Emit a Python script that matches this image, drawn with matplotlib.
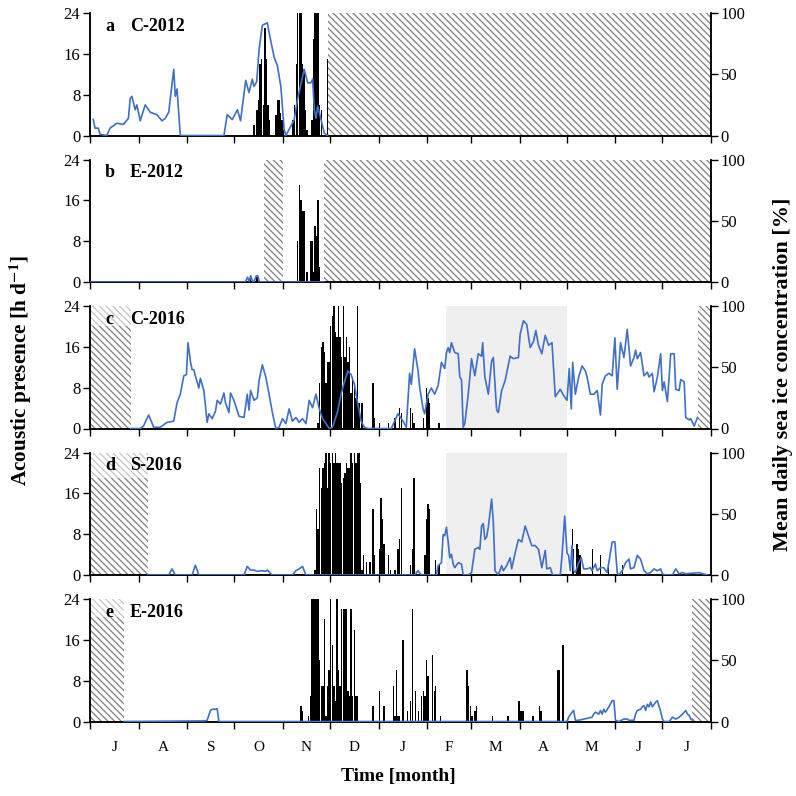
import numpy as np
import matplotlib
matplotlib.use('Agg')
import matplotlib.pyplot as plt
from matplotlib.patches import Rectangle

plt.rcParams['font.family'] = ['Liberation Serif', 'DejaVu Serif']
plt.rcParams['mathtext.fontset'] = 'stix'
plt.rcParams['hatch.linewidth'] = 0.9
plt.rcParams['hatch.color'] = '#7f7f7f'

# days counted from 1 July, 13 months shown
month_edges = [0, 31, 62, 92, 123, 153, 184, 215, 243, 274, 304, 335, 365, 396]
month_labels = ['J', 'A', 'S', 'O', 'N', 'D', 'J', 'F', 'M', 'A', 'M', 'J', 'J']

panel_letters = ['a', 'b', 'c', 'd', 'e']
panel_names = ['C-2012', 'E-2012', 'C-2016', 'S-2016', 'E-2016']

# ---- acoustic presence (h per day) ----
a_bar_start = 104
a_bar_h = [2, 0, 5, 7, 14, 15, 6, 21, 15, 6, 3, 0, 0, 0, 4, 7, 7, 4.5, 3, 1, 0, 0, 0, 0,
           0, 3, 6, 14, 24, 24, 24, 14, 13, 5, 1, 0, 0, 3, 19, 24, 24, 24, 6, 5, 0, 0, 0, 15]

b_bar_start = 132
b_bar_h = [8, 19, 16, 14, 14, 0, 2, 0, 8, 8, 2, 11, 9, 16, 3]
b_extra_day = [102, 106]
b_extra_h = [1.3, 1]

c_bar_start = 145
c_bar_h = [1, 9, 16, 17, 15, 9, 13, 13, 20, 22, 24, 19, 18, 24, 18, 14, 24, 14, 18, 13,
           16, 7, 10, 9, 6, 24, 5, 0, 5]
c_extra_day = [180, 181, 184, 190, 194, 197, 198, 204, 205, 206, 212, 214, 215, 216, 222]
c_extra_h = [9, 2, 1, 1, 2, 4, 3, 4, 3, 1, 2, 8, 6, 5, 1]

d_bar_start = 143
d_bar_h = [1, 13, 9, 21, 17, 21, 22, 24, 17, 24, 22, 24, 22, 24, 22, 22, 22, 18, 19, 20,
           22, 21, 21, 24, 22, 24, 22, 24, 24, 18, 1, 4, 0, 2.5, 0, 2.5, 0, 13, 4, 0,
           0, 5, 15, 11, 6, 0, 0, 4, 1, 0, 0, 1, 0, 5, 7, 17, 0, 0, 0, 0, 0, 2, 5, 19]
d_extra_day = [213, 214, 215, 216, 220, 222, 307, 308, 310, 311, 312, 320, 325, 330, 339]
d_extra_h = [4, 11, 14, 13, 3, 2, 9, 5, 6, 5, 4, 5, 4, 2, 2]

e_bar_start = 134
e_bar_h = [3, 2, 0, 0, 0, 1, 5, 24, 24, 24, 24, 24, 12, 7, 7, 20, 1, 7, 10, 24, 15, 7,
           4, 24, 10, 7, 22, 22, 22, 22, 6, 5, 22, 5, 18, 5, 5]
e_extra_day = [180, 184, 187, 193, 194, 195, 196, 197, 199, 202, 204, 205, 207, 209, 211,
               212, 213, 214, 215, 218, 219, 220, 223, 240, 241, 242, 243, 245, 246, 256,
               266, 273, 274, 275, 276, 282, 286, 287, 298, 299, 301]
e_extra_h = [3, 6, 3, 7, 1, 10, 1, 1, 16, 2, 4, 22, 6, 2, 5, 6, 5, 12, 9, 13, 6, 7, 1,
             10, 7, 3, 1, 2, 3, 1, 1, 4, 2, 2, 2, 1, 3, 2, 10, 10, 15]

# ---- mean daily sea ice concentration (%) ----
a_ice_day = [2.1, 3.2, 5.3, 6.4, 10.7, 12.8, 17.1, 21.3, 24.5, 25.6, 26.7, 28.8, 29.9, 32,
             35.2, 38.4, 42.7, 45.9, 48, 50.2, 51.2, 53.4, 54.4, 55.5, 57.6, 85.4, 87.5,
             90.7, 94, 96, 99.3, 101.4, 103.5, 104.6, 106.3, 107.8, 109.9, 113.1, 114.2,
             117.4, 119.5, 121.7, 123.8, 124.9, 127, 130.2, 132.4, 136.6, 138.8, 140.9,
             142, 143, 144.1, 145.2, 147.3, 149.4, 151.5]
a_ice = [13, 6, 6, 1, 0, 6, 10, 9, 14, 30, 32, 21, 25, 12, 25, 19, 17, 12, 14, 19, 30, 54,
         32, 38, 0, 0, 17, 13, 21, 12, 45, 35, 46, 40, 44, 70, 90, 92, 84, 64, 57, 40, 5,
         0, 5, 13, 30, 54, 43, 43, 46, 21, 14, 24, 13, 2, 0]

b_ice_day = [0, 99, 100.5, 101.5, 102.5, 103.5, 104.5, 106, 107, 108, 149.5]
b_ice = [0, 0, 4, 0.5, 5, 1, 0, 5, 5, 0, 0]

c_ice_day = [26, 32, 34.1, 37.4, 38.4, 40.6, 44.8, 49.1, 53.4, 55.5, 57.6, 59.8, 61.5, 62.5,
             64, 65.1, 66.2, 67.2, 69.4, 70.4, 72.6, 74.7, 75.8, 77.9, 80, 81.1, 83.2, 85.4,
             86.4, 88.6, 89.6, 91.8, 95, 98.2, 100.3, 101.4, 102.4, 104.6, 106.7, 107.8,
             109.9, 112.1, 114.2, 116.3, 118.5, 120.6, 122.7, 124.9, 127, 129.1, 131.3,
             133.4, 135.5, 137.7, 139.8, 141.9, 144.1, 146.2, 148.3, 150.5, 152.6, 154.7,
             157.9, 160.1, 162.2, 164.4, 166.5, 168.6, 170.8, 172.9, 175, 177.2, 192.1,
             196.4, 199.6, 201.7, 203.8, 204.9, 207, 209.2, 210.2, 212.4, 213.4, 215.6,
             217.7, 219.8, 222, 224.1, 226.2, 227.3, 228.4, 229.4, 230.5, 232.6, 234.8,
             235.8, 236.9, 238, 239, 241.2, 243.3, 245.4, 247.6, 249.7, 250.4, 251.8, 254,
             256.1, 257.2, 259.3, 260.4, 262.5, 264.7, 267.9, 270, 273.2, 274.3, 276.4,
             278.5, 280.7, 282.8, 284.3, 286, 288.1, 290.3, 292.4, 294.6, 296.7, 299.9,
             302, 304.2, 305.6, 306.9, 307.8, 309.5, 311.6, 313.8, 315.9, 317, 319.1,
             321.3, 323.4, 325.5, 326.6, 328.7, 330.9, 333, 334.7, 336.2, 338.3, 340.5,
             342.6, 344.7, 346.9, 347.9, 349, 351.1, 353.3, 355.4, 356.5, 358.6, 359.7,
             361.8, 363.9, 365, 366.1, 368.2, 370.3, 372.5, 373.5, 375.7, 376.7, 378.9,
             379.9, 382.1, 383.1, 385.3, 387.4]
c_ice = [0, 0, 2, 11, 8, 1, 1, 5, 6, 21, 28, 43, 44, 70, 55, 48, 48, 43, 33, 41, 31, 5,
         12, 8, 14, 23, 20, 29, 21, 13, 29, 23, 10, 9, 28, 15, 31, 23, 25, 39, 52, 42, 28,
         13, 0, 1, 8, 4, 16, 6, 9, 5, 8, 4, 23, 17, 28, 16, 8, 4, 0, 1, 14, 28, 38, 47, 44,
         36, 20, 6, 1, 0, 0, 12, 6, 1, 45, 36, 65, 47, 34, 16, 12, 28, 33, 28, 35, 54, 49,
         62, 66, 62, 70, 62, 61, 42, 40, 1, 4, 28, 57, 43, 61, 59, 70, 42, 28, 55, 58, 15,
         13, 31, 39, 59, 57, 58, 77, 88, 85, 66, 71, 80, 68, 61, 76, 68, 70, 26, 32, 27,
         23, 49, 16, 54, 28, 42, 51, 47, 42, 28, 28, 31, 11, 36, 43, 45, 43, 74, 32, 70,
         58, 81, 51, 58, 64, 57, 62, 43, 46, 42, 45, 30, 42, 61, 31, 38, 22, 61, 61, 32,
         31, 40, 38, 9, 7, 8, 2, 9]

d_ice_day = [36.7, 50.2, 52.3, 54.4, 65.1, 67.2, 69.4, 98.2, 100.3, 102.4, 104.6, 106.7,
             108.9, 112.1, 113.1, 115.3, 116.3, 129.1, 131.2, 133.4, 135.5, 137.7, 207,
             209.2, 211.3, 220.9, 222, 224.1, 225.2, 226.2, 227.3, 228.4, 229.4, 230.5,
             231.6, 232.6, 234.8, 236.9, 238, 241.2, 243.3, 245.4, 247.6, 248.6, 249.7,
             250.8, 251.8, 252.9, 254, 256.1, 257.2, 258.3, 260.4, 262.5, 263.6, 265.7,
             267.9, 268.9, 271.1, 273.2, 275.3, 277.5, 279.6, 281.7, 283.9, 286, 288.1,
             290.3, 291.3, 293.5, 295, 299.9, 301, 302.7, 304.2, 305.2, 306.3, 307.4,
             308.4, 309.5, 311.6, 313.3, 314.8, 316.9, 319.1, 320.1, 322.3, 323.4, 325.5,
             327.6, 329.8, 333, 334.7, 336.2, 337.2, 339.4, 341.5, 343.7, 344.7, 346.9,
             349, 351.1, 353.3, 355.4, 357.5, 359.7, 361.8, 363.9, 365, 367.1, 371.4,
             373.5, 375.7, 377.8, 379.9, 388.4, 390.6, 393.8]
d_ice = [0, 0, 5, 0, 0, 8, 0, 0, 7, 4, 4, 3, 3.5, 3, 4, 1, 0, 0, 3.5, 5, 7, 0, 0, 3.5, 0,
         0, 7.6, 10, 33, 32, 39, 27, 14, 17, 9, 6, 10, 9, 0, 0, 2, 21, 22.5, 21, 40, 42, 29,
         31, 39, 62, 43, 3.5, 0, 7.6, 3.5, 7.6, 14, 5, 18, 29, 27, 40, 32, 24, 24, 21, 6,
         20, 5, 6, 0, 0, 16, 48, 18, 16, 3.5, 24, 3.5, 2, 10, 14, 5, 5, 6, 3.5, 9, 3.5, 6,
         6, 2, 27, 27, 2, 0, 3.5, 10, 13, 5, 6, 16, 13, 3.5, 1, 2, 5, 3.5, 5, 1, 0, 0, 5,
         1, 2, 1, 2, 1, 0]

e_ice_day = [21.8, 73.6, 74.7, 76.8, 77.9, 80, 81.1, 82.2, 304.2, 305.2, 307.4, 308.4,
             309.5, 311.6, 320.1, 321.2, 322.3, 324.4, 325.5, 326.6, 327.6, 328.7, 330.9,
             333, 334.1, 335.1, 337.2, 340.4, 342.6, 343.7, 346.9, 347.9, 349, 351.1,
             352.2, 353.3, 354.3, 355.4, 356.5, 357.5, 358.6, 360.8, 361.8, 364, 365,
             366.1, 369.3, 371.4, 373.5, 375.7, 377.8, 379.9, 381, 382.1, 383.1, 384.2]
e_ice = [0, 0.5, 1, 9, 10, 10, 10.5, 0, 0, 3.5, 7.6, 9, 1, 1, 3.5, 6, 7.6, 6, 9, 6, 10,
         7.6, 12, 17, 17, 1, 0, 2, 2, 1, 1, 6, 9, 10, 12, 13, 9, 14, 12, 16, 12, 16, 17,
         7.6, 2, 0, 0, 3.5, 2, 3.5, 6, 9, 6, 5, 2, 1]

# ---- periods: no data (hatched) and shaded ----
a_nodata = [(151.5, 396)]
b_nodata = [(111, 123), (149.4, 396)]
c_nodata = [(0, 26), (387.4, 396)]
d_nodata = [(0, 36.7)]
e_nodata = [(0, 21.8), (384.2, 396)]
c_shade = (227, 304)
d_shade = (227, 304)

panels = [
    (a_bar_start, a_bar_h, [], [], a_ice_day, a_ice, a_nodata, None, None),
    (b_bar_start, b_bar_h, b_extra_day, b_extra_h, b_ice_day, b_ice, b_nodata, None, None),
    (c_bar_start, c_bar_h, c_extra_day, c_extra_h, c_ice_day, c_ice, c_nodata, c_shade, 0.84),
    (d_bar_start, d_bar_h, d_extra_day, d_extra_h, d_ice_day, d_ice, d_nodata, d_shade, 0.79),
    (e_bar_start, e_bar_h, e_extra_day, e_extra_h, e_ice_day, e_ice, e_nodata, None, 0.85),
]

fig = plt.figure(figsize=(7.96, 7.96), dpi=100)
W = 796.0
tops = [13, 159.5, 306, 452.5, 599]
h_px = 122.5
blue = '#3f6fc6'

for i, (bstart, bh, xday, xh, iday, ice, nodata, shade, fade) in enumerate(panels):
    ax = fig.add_axes([90 / W, 1 - (tops[i] + h_px) / W, 621 / W, h_px / W])
    ax2 = ax.twinx()

    if shade is not None:
        ax.axvspan(shade[0], shade[1], color='#efefef', lw=0, zorder=0)
    for x0, x1 in nodata:
        ax.axvspan(x0, x1, facecolor='white', edgecolor='#7f7f7f', hatch='\\\\\\\\\\',
                   lw=0, zorder=1)
    if fade is not None:
        ax.add_patch(Rectangle((0, fade), 0.3, 1 - fade, transform=ax.transAxes,
                               facecolor='white', alpha=0.55, lw=0, zorder=2))

    days = np.arange(bstart, bstart + len(bh))
    ax.bar(days + 0.5, bh, width=0.9, color='black', lw=0, zorder=3)
    if len(xday):
        ax.bar(np.array(xday) + 0.5, xh, width=0.9, color='black', lw=0, zorder=3)

    ax2.plot(iday, ice, color=blue, lw=1.2, zorder=4)

    ax.set_xlim(0, 396)
    ax.set_ylim(0, 24)
    ax.set_yticks([0, 8, 16, 24])
    ax2.set_ylim(0, 100)
    ax2.set_yticks([0, 50, 100])
    ax.set_xticks(month_edges)
    ax.set_xticklabels([])
    if i == 4:
        mids = [(month_edges[k] + month_edges[k + 1]) / 2 for k in range(13)]
        ax.set_xticks(mids, minor=True)
        ax.set_xticklabels(month_labels, minor=True, fontsize=11)
        ax.tick_params(axis='x', which='minor', length=0, pad=14)
    ax.tick_params(axis='x', which='major', direction='out', length=5, width=1)
    ax.tick_params(axis='y', direction='out', length=5, width=1, labelsize=12, pad=2)
    ax2.tick_params(axis='y', direction='out', length=5, width=1, labelsize=12, pad=2)

    for a in (ax, ax2):
        a.spines['top'].set_visible(False)
        for s in ('left', 'right', 'bottom'):
            a.spines[s].set_linewidth(1.1)

    ax.text(0.024, 0.89, panel_letters[i], transform=ax.transAxes, fontsize=13,
            fontweight='bold', va='center', zorder=6)
    ax.text(0.064, 0.89, panel_names[i], transform=ax.transAxes, fontsize=13,
            fontweight='bold', va='center', zorder=6)

fig.text(0.026, 0.535, r'Acoustic presence [h d$^{\mathbf{-1}}$]', rotation=90,
         fontsize=15.3, fontweight='bold', ha='center', va='center')
fig.text(0.984, 0.53, 'Mean daily sea ice concentration [%]', rotation=90,
         fontsize=16, fontweight='bold', ha='center', va='center')
fig.text(0.5, 0.024, 'Time [month]', fontsize=14, fontweight='bold',
         ha='center', va='center')

fig.savefig('out.png', dpi=100)
